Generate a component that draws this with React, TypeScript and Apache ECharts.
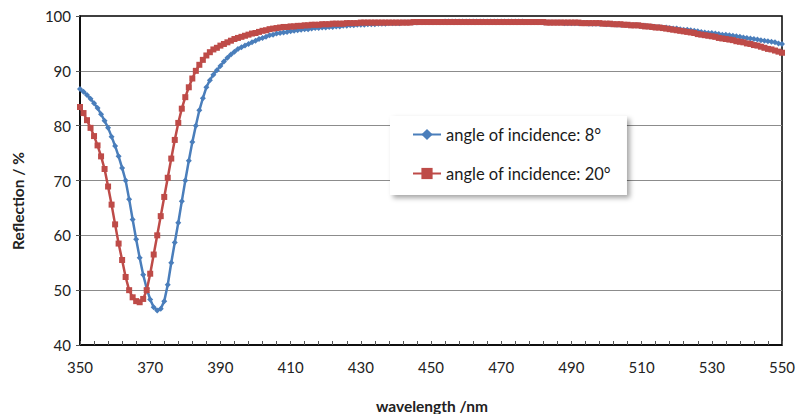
import React, { useEffect, useRef } from "react";
import * as echarts from "echarts";

const START_NM = 350;
const wavelengths: number[] = Array.from({ length: 201 }, (_, i) => START_NM + i);

const angle8: number[] = [
  86.7, 86.2, 85.6, 84.9, 84.1, 83.2, 82.1, 80.9, 79.6, 78.0,
  76.3, 74.4, 72.3, 70.0, 66.6, 62.9, 59.3, 55.9, 52.8, 50.3,
  48.3, 46.9, 46.3, 46.6, 48.0, 51.0, 55.0, 58.7, 62.3, 66.2,
  70.0, 73.6, 77.0, 80.0, 82.8, 85.0, 87.0, 88.3, 89.3, 90.1,
  90.9, 91.7, 92.4, 93.0, 93.5, 94.0, 94.3, 94.6, 94.9, 95.2,
  95.5, 95.8, 96.0, 96.2, 96.5, 96.6, 96.8, 96.9, 97.0, 97.1,
  97.2, 97.3, 97.4, 97.5, 97.6, 97.6, 97.7, 97.8, 97.8, 97.9,
  97.9, 98.0, 98.0, 98.1, 98.1, 98.2, 98.2, 98.3, 98.3, 98.4,
  98.4, 98.4, 98.5, 98.5, 98.5, 98.6, 98.6, 98.6, 98.7, 98.7,
  98.7, 98.7, 98.8, 98.8, 98.8, 98.8, 98.8, 98.9, 98.9, 98.9,
  98.9, 98.9, 98.9, 98.9, 99.0, 99.0, 99.0, 99.0, 99.0, 99.0,
  99.0, 99.0, 99.0, 99.0, 99.0, 99.0, 99.0, 99.0, 99.0, 99.0,
  99.0, 99.0, 99.0, 99.0, 99.0, 99.0, 99.0, 98.9, 98.9, 98.9,
  98.9, 98.9, 98.8, 98.8, 98.8, 98.8, 98.8, 98.8, 98.7, 98.7,
  98.7, 98.7, 98.7, 98.7, 98.7, 98.6, 98.6, 98.6, 98.6, 98.6,
  98.5, 98.5, 98.5, 98.4, 98.4, 98.4, 98.4, 98.3, 98.3, 98.3,
  98.2, 98.2, 98.1, 98.1, 98.0, 98.0, 97.9, 97.9, 97.8, 97.7,
  97.7, 97.6, 97.5, 97.5, 97.4, 97.3, 97.2, 97.1, 97.0, 96.9,
  96.9, 96.8, 96.7, 96.6, 96.6, 96.5, 96.4, 96.3, 96.2, 96.1,
  96.0, 95.9, 95.8, 95.7, 95.6, 95.5, 95.4, 95.3, 95.2, 95.0,
  94.9,
];

const angle20: number[] = [
  83.4, 82.3, 81.0, 79.6, 78.1, 76.4, 74.4, 72.1, 68.9, 65.6,
  62.0, 58.5, 55.5, 52.4, 50.0, 48.7, 48.0, 47.8, 48.4, 50.0,
  53.0, 56.5, 60.0, 63.5, 67.0, 70.5, 74.0, 77.4, 80.5, 83.1,
  85.2, 87.0, 88.6, 90.0, 91.1, 92.0, 92.8, 93.4, 93.9, 94.2,
  94.6, 94.9, 95.2, 95.5, 95.8, 96.0, 96.2, 96.4, 96.6, 96.8,
  96.9, 97.1, 97.3, 97.4, 97.6, 97.7, 97.8, 97.9, 98.0, 98.0,
  98.1, 98.1, 98.2, 98.2, 98.3, 98.3, 98.4, 98.4, 98.4, 98.5,
  98.5, 98.5, 98.6, 98.6, 98.6, 98.6, 98.7, 98.7, 98.7, 98.7,
  98.8, 98.8, 98.8, 98.8, 98.8, 98.8, 98.8, 98.8, 98.8, 98.8,
  98.8, 98.8, 98.8, 98.8, 98.8, 98.9, 98.9, 98.9, 98.9, 98.9,
  98.9, 98.9, 98.9, 98.9, 98.9, 98.9, 98.9, 98.9, 98.9, 98.9,
  98.9, 98.9, 98.9, 98.9, 98.9, 98.9, 98.9, 98.9, 98.9, 98.9,
  98.9, 98.9, 98.9, 98.9, 98.9, 98.9, 98.9, 98.9, 98.9, 98.9,
  98.9, 98.9, 98.9, 98.8, 98.8, 98.8, 98.8, 98.8, 98.8, 98.8,
  98.8, 98.8, 98.8, 98.7, 98.7, 98.7, 98.7, 98.7, 98.7, 98.6,
  98.6, 98.6, 98.5, 98.5, 98.5, 98.4, 98.4, 98.3, 98.3, 98.3,
  98.2, 98.1, 98.1, 98.0, 97.9, 97.9, 97.8, 97.7, 97.6, 97.5,
  97.4, 97.3, 97.2, 97.1, 97.0, 96.9, 96.7, 96.6, 96.5, 96.4,
  96.3, 96.2, 96.0, 95.9, 95.8, 95.7, 95.6, 95.4, 95.3, 95.2,
  95.0, 94.9, 94.7, 94.6, 94.4, 94.2, 94.0, 93.9, 93.7, 93.5,
  93.3,
];

const seriesNames = ["angle of incidence: 8°", "angle of incidence: 20°"];
const xAxisTitle = "wavelength /nm";
const yAxisTitle = "Reflection / %";

const FONT = "Lato, 'Noto Sans', sans-serif";

export default function App() {
  const ref = useRef<HTMLDivElement>(null);
  useEffect(() => {
    document.body.style.margin = "0";
    if (!ref.current) return;
    const chart = echarts.init(ref.current, undefined, { renderer: "svg" });
    const toPairs = (vals: number[]) => vals.map((v, i) => [wavelengths[i], v]);
    chart.setOption({
      animation: false,
      backgroundColor: "#ffffff",
      textStyle: { fontFamily: FONT },
      grid: {
        left: 80,
        right: 19,
        top: 16,
        bottom: 69,
        show: true,
        borderColor: "#000",
        borderWidth: 1.5,
        backgroundColor: "transparent",
      },
      legend: {
        orient: "vertical",
        left: 390,
        top: 116,
        padding: [10, 16, 13, 22],
        itemGap: 22,
        itemWidth: 28,
        itemHeight: 14,
        backgroundColor: "#ffffff",
        shadowColor: "rgba(0,0,0,0.35)",
        shadowBlur: 5,
        shadowOffsetX: 3,
        shadowOffsetY: 3,
        textStyle: { fontFamily: FONT, fontSize: 16.5, color: "#1a1a1a" },
        data: seriesNames,
      },
      xAxis: {
        type: "value",
        min: 350,
        max: 550,
        interval: 20,
        axisLine: { show: true, lineStyle: { color: "#000", width: 1.5 } },
        axisTick: { show: true, inside: true, length: 4, lineStyle: { color: "#555" } },
        minorTick: { show: true, splitNumber: 5, length: 4, lineStyle: { color: "#555" } },
        splitLine: { show: false },
        axisLabel: { fontFamily: FONT, fontSize: 15, color: "#222", margin: 14 },
      },
      yAxis: {
        type: "value",
        min: 40,
        max: 100,
        interval: 10,
        axisLine: { show: true, lineStyle: { color: "#000", width: 1.5 } },
        axisTick: { show: true, inside: false, length: 4, lineStyle: { color: "#555" } },
        splitLine: {
          show: true,
          showMinLine: false,
          showMaxLine: false,
          lineStyle: { color: "#8c8c8c", width: 1 },
        },
        axisLabel: { fontFamily: FONT, fontSize: 15, color: "#222", margin: 9 },
      },
      graphic: [
        {
          type: "text",
          x: 18,
          y: 201,
          rotation: Math.PI / 2,
          style: {
            text: yAxisTitle,
            fontFamily: FONT,
            fontSize: 15.5,
            fontWeight: "bold",
            fill: "#222",
            align: "center",
            verticalAlign: "middle",
          },
        },
        {
          type: "text",
          x: 432,
          y: 406,
          style: {
            text: xAxisTitle,
            fontFamily: FONT,
            fontSize: 15.5,
            fontWeight: "bold",
            fill: "#222",
            align: "center",
            verticalAlign: "middle",
          },
        },
      ],
      series: [
        {
          name: seriesNames[0],
          type: "line",
          data: toPairs(angle8),
          symbol: "diamond",
          symbolSize: 6,
          showAllSymbol: true,
          lineStyle: { color: "#4A7EBB", width: 2.5 },
          itemStyle: { color: "#4A7EBB" },
          z: 3,
        },
        {
          name: seriesNames[1],
          type: "line",
          data: toPairs(angle20),
          symbol: "rect",
          symbolSize: 6,
          showAllSymbol: true,
          lineStyle: { color: "#BE4B48", width: 2.5 },
          itemStyle: { color: "#BE4B48" },
          z: 4,
        },
      ],
    });
    return () => chart.dispose();
  }, []);
  return <div ref={ref} style={{ width: 801, height: 414 }} />;
}
